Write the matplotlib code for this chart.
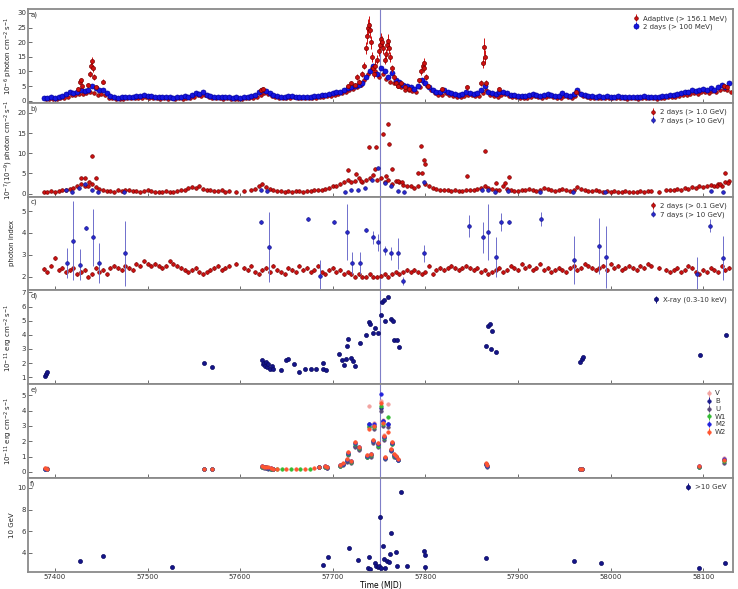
import numpy as np
import matplotlib
matplotlib.use('Agg')
import matplotlib.pyplot as plt

nan = np.nan

# ---- panel a: gamma-ray flux (10^-6 ph cm^-2 s^-1)
blue_a_t = np.arange(57388, 58129, 4)
blue_a = [0.9, 1.0, 1.1, 1.0, 1.3, 1.6, 2.4, 2.9, 2.6, 3.0,
          3.5, 3.2, 3.8, 5.0, 4.2, 3.5, 3.8, 2.5, 1.5, 1.2,
          1.0, 1.1, 1.3, 1.4, 1.2, 1.5, 1.6, 1.8, 1.7, 1.5,
          1.4, 1.2, 1.3, 1.1, 1.2, 1.0, 1.3, 1.2, 1.5, 1.4,
          2.0, 2.6, 2.2, 2.8, 2.0, 1.6, 1.4, 1.2, 1.1, 1.3,
          1.2, 1.0, 1.1, 1.0, 1.2, 1.4, 1.5, 2.0, 2.8, 3.5,
          3.2, 2.5, 2.0, 1.6, 1.4, 1.3, 1.5, 1.6, 1.4, 1.3,
          1.2, 1.3, 1.4, 1.5, 1.6, 1.8, 2.0, 2.2, 2.5, 2.8,
          3.0, 3.5, 4.2, 4.5, 5.0, 5.5, 6.0, 8.0, 10.0, 12.0,
          9.0, 11.0, 10.0, 8.0, 9.5, 7.0, 6.5, 5.5, 5.0, 4.5,
          4.0, 5.0, 7.0, 6.0, 4.5, 3.5, 3.0, 2.8, 3.5, 3.0,
          2.5, 2.2, 2.0, 2.3, 2.8, 2.5, 2.2, 2.6, 3.5, 5.0,
          3.0, 2.5, 2.2, 2.8, 3.0, 2.5, 2.0, 1.8, 1.7, 1.6,
          1.5, 1.8, 2.2, 1.8, 1.6, 1.9, 2.3, 2.0, 1.7, 1.6,
          2.5, 1.8, 1.6, 2.2, 3.5, 2.4, 1.8, 1.6, 1.5, 1.4,
          1.6, 1.4, 1.5, 1.3, 1.4, 1.5, 1.3, 1.2, 1.4, 1.3,
          1.2, 1.3, 1.5, 1.4, 1.3, 1.2, 1.3, 1.5, 1.7, 1.9,
          2.0, 2.3, 2.5, 2.8, 3.0, 3.5, 3.2, 3.8, 4.0, 3.5,
          4.2, 3.8, 4.5, 5.5, 4.8, 6.2]

red_a_t = np.arange(57390, 58131, 4)
red_a = [0.6, 0.7, 0.6, 0.7, 0.8, 1.0, 1.4, 1.8, 2.0, 2.4,
         2.2, 2.6, 3.0, 2.5, 2.0, 2.4, 1.8, 1.0, 0.8, 0.7,
         0.6, 0.7, 0.8, 0.9, 0.8, 0.9, 1.0, 1.1, 1.0, 0.9,
         0.8, 0.7, 0.8, 0.7, 0.8, 0.6, 0.8, 0.7, 0.9, 1.0,
         1.4, 1.8, 1.5, 1.9, 1.3, 1.0, 0.9, 0.8, 0.7, 0.8,
         0.7, 0.6, 0.7, 0.6, 0.8, 0.9, 1.0, 1.4, 2.0, 2.6,
         2.2, 1.6, 1.2, 1.0, 0.9, 0.8, 1.0, 1.1, 0.9, 0.8,
         0.8, 0.9, 1.0, 1.0, 1.1, 1.3, 1.5, 1.6, 1.9, 2.2,
         2.5, 2.8, 3.5, 4.0, 4.5, 5.5, 7.0, 9.0, 11.0, 10.0,
         8.0, 9.0, 7.5, 6.5, 6.0, 5.0, 4.5, 3.8, 3.5, 3.2,
         3.0, 4.5, 6.0, 5.0, 3.5, 2.5, 2.0, 1.8, 2.5, 2.0,
         1.6, 1.4, 1.3, 1.5, 2.0, 1.8, 1.5, 1.6, 2.5, 3.5,
         2.0, 1.6, 1.4, 2.0, 2.2, 1.6, 1.3, 1.1, 1.0, 1.0,
         0.9, 1.1, 1.5, 1.2, 1.0, 1.2, 1.6, 1.3, 1.0, 1.0,
         1.5, 1.1, 1.0, 1.5, 2.5, 1.6, 1.2, 1.0, 0.9, 0.8,
         1.0, 0.8, 0.9, 0.8, 0.8, 0.9, 0.8, 0.7, 0.8, 0.8,
         0.7, 0.8, 0.9, 0.8, 0.8, 0.7, 0.8, 0.9, 1.1, 1.3,
         1.4, 1.6, 1.8, 2.0, 2.2, 2.6, 2.4, 2.8, 3.0, 2.6,
         3.2, 2.8, 3.5, 4.0, 3.6, 3.0]

# adaptive bins are finer during flares
red_pk_t = [57425, 57427, 57428, 57429, 57436, 57438, 57439, 57440, 57441, 57442, 57444, 57452,
            57622, 57625,
            57716, 57720, 57724, 57726, 57728, 57732, 57734, 57736, 57737, 57738, 57739, 57740,
            57741, 57742, 57744, 57745, 57746, 57748, 57750, 57751, 57752, 57753, 57754, 57756,
            57757, 57759, 57760, 57761, 57762, 57764, 57766, 57768, 57771, 57774, 57778, 57782,
            57793, 57795, 57797, 57798, 57799, 57801, 57803,
            57818, 57845, 57860, 57862, 57863, 57864, 57866, 57880, 57963, 58122, 58126]
red_pk = [4.0, 6.5, 7.0, 5.0, 5.5, 9.0, 12.0, 13.5, 11.0, 8.0, 4.5, 6.5,
          3.5, 4.0,
          5.0, 6.0, 5.5, 8.0, 6.5, 9.0, 12.0, 18.0, 22.0, 25.0, 26.0, 24.0,
          20.0, 15.0, 11.0, 9.0, 12.0, 14.0, 17.0, 19.0, 21.0, 20.0, 18.0, 14.0,
          16.0, 19.0, 20.5, 18.0, 15.0, 11.0, 8.0, 6.0, 5.0, 6.0, 4.5, 4.0,
          7.0, 10.0, 12.0, 13.0, 11.0, 8.0, 5.0,
          4.0, 4.5, 6.0, 13.0, 18.5, 15.0, 6.0, 4.0, 3.0, 5.0, 4.5]
red_pk_err = [0.6, 0.8, 0.9, 0.6, 0.7, 1.0, 1.2, 1.4, 1.2, 1.0, 0.6, 0.8,
              0.5, 0.6,
              0.7, 0.8, 0.7, 1.0, 0.8, 1.0, 1.3, 2.0, 2.5, 2.8, 3.0, 2.6,
              2.2, 1.8, 1.3, 1.1, 1.4, 1.6, 1.8, 2.0, 2.2, 2.2, 2.0, 1.6,
              1.7, 2.0, 2.2, 2.0, 1.7, 1.3, 1.0, 0.8, 0.7, 0.8, 0.6, 0.6,
              0.9, 1.2, 1.4, 1.5, 1.3, 1.0, 0.7,
              0.6, 0.7, 1.0, 2.0, 3.0, 2.2, 0.9, 0.6, 0.5, 0.8, 0.7]

# ---- panel b: 2-day >1 GeV (red) and 7-day >10 GeV (blue)
red_b_t = np.arange(57388, 58129, 4)
red_b = [0.5, 0.4, 0.6, 0.5, 0.7, 0.8, 1.0, 1.2, 1.5, 2.0,
         2.4, 1.8, 2.0, 2.5, 1.6, 1.2, 0.9, 0.7, 0.6, 0.5,
         0.8, 0.7, 0.9, 0.8, 0.6, 0.7, 0.5, 0.6, 0.8, 0.7,
         0.5, 0.4, 0.5, 0.6, 0.4, 0.5, 0.6, 0.8, 0.9, 1.3,
         1.6, 1.4, 1.8, 1.2, 0.9, 0.8, 0.7, 0.6, 0.8, 0.5,
         0.6, nan, 0.5, nan, 0.7, nan, 0.8, 1.2, 1.8, 2.4,
         1.6, 1.2, 0.8, 0.6, 0.7, 0.5, 0.6, 0.5, 0.7, 0.6,
         0.5, 0.6, 0.7, 0.8, 0.9, 1.0, 1.2, 1.5, 1.8, 2.0,
         2.5, 3.0, 3.5, 2.8, 3.2, 4.0, 3.0, 3.5, 4.0, 4.5,
         3.5, 4.0, 3.0, 3.5, 2.5, 3.2, 2.8, 2.2, 2.0, 1.8,
         1.5, 2.0, 5.0, 2.5, 1.8, 1.4, 1.2, 1.0, 0.9, 0.8,
         0.7, 0.8, 0.6, 0.7, 0.9, 1.0, 0.8, 1.2, 1.5, 2.0,
         1.5, 1.2, 0.8, 1.0, 1.8, 1.2, 0.8, 0.7, 0.6, 0.8,
         1.0, 1.2, 0.9, 0.7, 0.8, 1.5, 1.2, 0.9, 0.7, 0.8,
         1.2, 0.9, 0.7, 1.0, 1.6, 1.2, 0.8, 0.6, 0.7, 0.8,
         0.6, 0.5, 0.7, 0.5, 0.6, 0.4, 0.5, 0.6, 0.5, 0.4,
         0.5, 0.6, 0.5, 0.7, 0.6, nan, 0.5, nan, 0.8, 1.0,
         0.9, 1.2, 1.0, 1.4, 1.2, 1.6, 1.5, 1.9, 1.6, 2.0,
         2.2, 1.8, 2.5, 2.0, 2.8, 3.2]
red_b_pk_t = [57428, 57433, 57437, 57440, 57444, 57716, 57725, 57730, 57739, 57746, 57747,
              57754, 57757, 57760, 57761, 57764, 57770, 57775, 57792, 57795, 57798, 57800,
              57845, 57864, 57876, 57886, 57890, 58115, 58118, 58124, 58127]
red_b_pk = [4.0, 4.0, 3.0, 9.3, 4.0, 5.9, 4.9, 3.2, 11.6, 6.2, 11.6,
            14.8, 4.4, 17.3, 12.3, 6.2, 3.2, 3.0, 5.2, 11.8, 8.4, 7.4,
            4.4, 10.6, 2.7, 2.7, 4.2, 2.0, 2.5, 5.2, 2.7]

blue_b_t = [57412, 57419, 57426, 57433, 57440, 57447, 57475, 57622, 57629, 57713, 57720,
            57727, 57735, 57742, 57749, 57756, 57763, 57770, 57777, 57798, 57861, 57868,
            57875, 57889, 57924, 57959, 57994, 58108, 58121]
blue_b = [0.8, 0.3, 1.5, 2.5, 1.0, 0.5, 0.4, 0.8, 0.6, 0.5, 0.8,
          1.0, 1.5, 3.5, 6.4, 2.7, 1.8, 0.6, 0.3, 3.0, 1.0, 0.8,
          0.5, 0.6, 0.4, 0.5, 0.4, 0.6, 0.3]

# ---- panel c: photon index
red_c = [2.35, 2.2, 2.5, 2.85, 2.3, 2.4, 2.2, 2.3, 2.4, 2.1,
         2.2, 2.3, 2.0, 2.1, 2.4, 2.2, 2.3, 2.1, 2.4, 2.5,
         2.4, 2.3, 2.5, 2.4, 2.3, 2.6, 2.5, 2.7, 2.6, 2.5,
         2.6, 2.5, 2.4, 2.5, 2.7, 2.6, 2.5, 2.4, 2.3, 2.2,
         2.3, 2.4, 2.2, 2.1, 2.2, 2.3, 2.4, 2.5, 2.3, 2.4,
         2.5, nan, 2.6, nan, 2.4, 2.3, 2.5, 2.2, 2.1, 2.3,
         2.4, 2.2, 2.5, 2.3, 2.2, 2.1, 2.4, 2.3, 2.2, 2.5,
         2.3, 2.4, 2.2, 2.3, 2.5, 2.2, 2.1, 2.3, 2.4, 2.2,
         2.3, 2.1, 2.2, 2.1, 2.0, 2.1, 2.0, 2.0, 2.1, 2.0,
         2.0, 2.05, 2.1, 2.0, 2.1, 2.2, 2.1, 2.2, 2.3, 2.2,
         2.3, 2.2, 2.1, 2.2, 2.5, 2.1, 2.3, 2.4, 2.3, 2.4,
         2.5, 2.4, 2.3, 2.4, 2.5, 2.4, 2.3, 2.4, 2.2, 2.3,
         2.1, 2.2, 2.3, 2.4, 2.2, 2.3, 2.5, 2.4, 2.3, 2.6,
         2.4, 2.5, 2.3, 2.4, 2.6, 2.3, 2.4, 2.2, 2.3, 2.4,
         2.3, 2.2, 2.4, 2.5, 2.3, 2.4, 2.6, 2.5, 2.4, 2.3,
         2.4, 2.5, 2.3, 2.6, 2.4, 2.5, 2.3, 2.4, 2.5, 2.4,
         2.3, 2.5, 2.4, 2.6, 2.5, nan, 2.4, nan, 2.3, 2.2,
         2.3, 2.4, 2.2, 2.3, 2.5, 2.4, 2.2, 2.1, 2.3, 2.2,
         2.4, 2.3, 2.2, 2.5, 2.3, 2.4]

blue_c_t = [57413, 57420, 57427, 57434, 57441, 57448, 57476, 57623, 57631, 57673, 57686,
            57701, 57715, 57721, 57729, 57736, 57743, 57749, 57756, 57763, 57770, 57776,
            57798, 57847, 57862, 57868, 57876, 57882, 57890, 57925, 57960, 57987, 57995,
            58093, 58107, 58121]
blue_c = [2.62, 3.65, 2.55, 4.24, 3.8, 2.62, 3.07, 4.5, 3.35, 4.64, 2.05,
          4.5, 4.05, 2.62, 2.62, 4.15, 3.8, 3.57, 3.2, 3.07, 3.07, 1.8,
          3.07, 4.33, 3.8, 4.05, 2.9, 4.5, 4.5, 4.64, 2.75, 3.4, 2.9,
          2.1, 4.33, 2.85]
blue_c_err = [0.7, 1.8, 0.7, 0.1, 1.3, 0.9, 1.5, 0.1, 1.6, 0.1, 0.7,
              0.1, 1.3, 0.5, 0.5, 0.1, 0.3, 0.4, 0.2, 0.3, 0.7, 0.2,
              0.4, 0.5, 0.7, 1.3, 0.9, 0.4, 0.1, 0.3, 1.1, 1.3, 1.4,
              0.8, 0.3, 1.0]

# ---- panel d: X-ray 0.3-10 keV
xray_t = [57389, 57390, 57391, 57561, 57570,
          57624, 57625, 57626, 57627, 57628, 57629, 57630, 57632, 57634, 57636,
          57644, 57649, 57652, 57658, 57664, 57670, 57676, 57682, 57689, 57690, 57693,
          57707, 57710, 57712, 57714, 57715, 57717, 57720, 57722, 57724, 57729,
          57736, 57739, 57740, 57743, 57746, 57749, 57752, 57753, 57755, 57756,
          57760, 57763, 57765, 57766, 57769, 57772,
          57866, 57868, 57870, 57871, 57872, 57876,
          57967, 57969, 57970, 58097, 58125]
xray = [1.1, 1.25, 1.35, 2.0, 1.7,
        2.2, 1.9, 2.0, 1.8, 2.1, 1.7, 1.9, 1.6, 1.8, 1.6,
        1.5, 2.2, 2.3, 1.9, 1.4, 1.6, 1.6, 1.6, 2.0, 1.55, 1.5,
        2.65, 2.2, 1.85, 2.3, 3.2, 3.7, 2.35, 2.15, 1.8, 3.4,
        4.0, 4.9, 4.8, 4.1, 4.5, 4.1, 5.4, 6.35, 6.5, 5.0,
        6.7, 5.1, 5.0, 3.65, 3.6, 3.15,
        3.2, 4.6, 4.8, 3.0, 4.3, 2.8,
        2.1, 2.3, 2.4, 2.55, 4.0]

# ---- panel e: Swift/UVOT
uvot_t = [57389, 57391, 57561, 57570, 57624, 57626, 57628, 57630, 57633, 57636,
          57640, 57645, 57650, 57655, 57660, 57665, 57670, 57675, 57680, 57685,
          57692, 57694, 57708, 57711, 57715, 57716, 57720, 57724, 57728, 57737,
          57739, 57741, 57744, 57745, 57749, 57752, 57754, 57755, 57756, 57760,
          57763, 57764, 57766, 57768, 57770, 57865, 57867, 57967, 57969, 58095,
          58123]
uv_V = [0.25, 0.24, 0.2, 0.22, 0.4, 0.35, 0.3, 0.28, 0.25, 0.22,
        nan, nan, nan, nan, nan, nan, nan, nan, nan, 0.35,
        0.4, 0.32, 0.45, 0.55, 0.85, 1.3, 0.7, 1.95, 1.65, 1.1,
        4.3, 1.2, 2.1, 3.2, 1.9, 4.6, 3.4, 2.4, 0.95, 4.4,
        1.5, 1.95, 1.15, 1.05, 0.85, 0.55, 0.4, 0.2, 0.22, 0.38,
        0.9]
uv_B = [0.22, 0.2, 0.18, 0.2, 0.35, 0.3, 0.28, 0.25, 0.22, 0.2,
        nan, nan, nan, nan, nan, nan, nan, nan, nan, 0.3,
        0.35, 0.28, 0.4, 0.5, 0.7, 1.2, 0.62, 1.7, 1.5, 1.0,
        3.1, 1.1, 2.0, 3.0, 1.8, 4.2, 3.3, 2.3, 0.9, 3.1,
        1.45, 1.9, 1.1, 1.0, 0.8, 0.5, 0.38, 0.18, 0.2, 0.35,
        0.8]
uv_U = [0.2, 0.2, 0.17, 0.19, 0.32, 0.28, 0.26, 0.22, 0.2, 0.18,
        nan, nan, nan, nan, nan, nan, nan, nan, nan, 0.3,
        0.33, 0.26, 0.38, 0.45, 0.65, 1.1, 0.6, 1.6, 1.45, 0.95,
        2.9, 1.0, 1.9, 2.8, 1.6, 4.0, 3.0, 2.1, 0.85, 2.9,
        1.35, 1.8, 1.0, 0.95, 0.75, 0.45, 0.35, 0.16, 0.18, 0.32,
        0.6]
uv_W1 = [0.22, 0.21, 0.2, 0.21, 0.35, 0.3, 0.3, 0.25, 0.22, 0.2,
         0.18, 0.17, nan, 0.18, nan, 0.2, nan, 0.22, nan, 0.32,
         0.35, 0.3, 0.4, 0.5, 0.75, 1.15, 0.65, 1.8, 1.55, 1.0,
         3.0, 1.1, 2.0, 2.9, 1.7, 4.3, 3.1, 2.2, 0.9, 3.6,
         1.4, 1.85, 1.05, 1.0, 0.8, 0.5, 0.38, 0.18, 0.2, 0.35,
         0.7]
uv_M2 = [0.2, 0.22, 0.19, 0.2, 0.38, 0.33, 0.3, 0.27, 0.24, 0.2,
         nan, nan, nan, nan, nan, nan, nan, nan, nan, 0.33,
         0.38, 0.3, 0.42, 0.55, 0.8, 1.25, 0.7, 1.9, 1.6, 1.05,
         3.1, 1.15, 2.05, 3.1, 1.8, 5.06, 3.3, 2.3, 0.9, 3.1,
         1.45, 1.9, 1.1, 1.0, 0.8, 0.55, 0.4, 0.19, 0.2, 0.38,
         0.85]
uv_W2 = [0.23, 0.2, 0.2, 0.2, 0.4, 0.35, 0.32, 0.3, 0.26, 0.22,
         0.2, nan, 0.18, nan, 0.2, nan, 0.2, nan, 0.25, 0.35,
         0.4, 0.33, 0.45, 0.6, 0.85, 1.3, 0.72, 1.95, 1.6, 1.1,
         2.8, 1.2, 2.1, 3.0, 1.9, 4.5, 3.2, 2.35, 0.95, 2.6,
         1.5, 1.95, 1.15, 1.05, 0.85, 0.6, 0.42, 0.2, 0.22, 0.4,
         0.75]
uv_bands = ['V', 'B', 'U', 'W1', 'M2', 'W2']
uv_colors = ['#f2a3a0', '#1a1a8c', '#5a4a78', '#33bb33', '#2222dd', '#ff5530']

# ---- panel f: >10 GeV photons
hep_t = [57427, 57452, 57526, 57689, 57695, 57718, 57727, 57738, 57739, 57740,
         57746, 57747, 57749, 57751, 57750, 57752, 57754, 57755, 57756, 57759,
         57761, 57762, 57763, 57768, 57769, 57774, 57780, 57799, 57799.5, 57800,
         57865, 57961, 57990, 58095, 58124]
hep = [3.26, 3.7, 2.7, 2.9, 3.6, 4.45, 3.35, 2.6, 3.6, 2.5,
       3.1, 2.8, 2.7, 7.35, 2.8, 2.6, 4.6, 3.45, 2.65, 3.26,
       3.2, 3.9, 5.85, 4.1, 2.8, 9.65, 2.8, 4.2, 3.8, 2.7,
       3.5, 3.26, 3.05, 2.6, 3.1]

flare_mjd = 57751

# ---------------------------------------------------------------
plt.rcParams['font.family'] = 'DejaVu Sans'
fig, axes = plt.subplots(6, 1, figsize=(7.38, 5.89), dpi=100, sharex=True)
fig.subplots_adjust(left=0.038, right=0.993, top=0.985, bottom=0.029, hspace=0)

RED = '#d01010'
RED_E = '#7a0000'
BLUE = '#1515e0'
NAVY = '#14148a'
ms = 2.6


def pts(ax, t, y, color, edge, yerr=None, ecolor=None, label=None, size=ms, z=2):
    return ax.errorbar(t, y, yerr=yerr, fmt='o', color=color, mec=edge, mew=0.5,
                       ms=size, ecolor=ecolor or color, elinewidth=0.7, capsize=0,
                       label=label, zorder=z)


legend_items = []

ax = axes[0]
h_red = pts(ax, red_a_t, red_a, RED, RED_E, yerr=0.3, z=2)
h_blue = pts(ax, blue_a_t, blue_a, BLUE, '#0000a0', yerr=0.25, size=3.6, z=3)
pts(ax, red_pk_t, red_pk, RED, RED_E, yerr=red_pk_err, size=2.9, z=4)
ax.set_ylim(-0.7, 31.4)
ax.set_yticks([0, 5, 10, 15, 20, 25, 30])
ax.set_ylabel('10$^{-6}$ photon cm$^{-2}$ s$^{-1}$')
legend_items.append(([h_red, h_blue], ['Adaptive (> 156.1 MeV)', '2 days (> 100 MeV)']))

ax = axes[1]
h_r = pts(ax, red_b_t, red_b, RED, RED_E, yerr=0.15)
pts(ax, red_b_pk_t, red_b_pk, RED, RED_E)
h_b = pts(ax, blue_b_t, blue_b, '#2a2ad0', NAVY, yerr=0.15, z=3)
ax.set_ylim(-0.7, 22.5)
ax.set_yticks([0, 5, 10, 15, 20])
ax.set_ylabel('10$^{-7}$(10$^{-9}$) photon cm$^{-2}$ s$^{-1}$')
legend_items.append(([h_r, h_b], ['2 days (> 1.0 GeV)', '7 days (> 10 GeV)']))

ax = axes[2]
h_r = pts(ax, red_b_t, red_c, RED, RED_E, yerr=0.08)
h_b = pts(ax, blue_c_t, blue_c, '#2a2ad0', NAVY, yerr=blue_c_err, ecolor='#6f6fcc', z=3)
ax.set_ylim(1.37, 5.67)
ax.set_yticks([2, 3, 4, 5])
ax.set_ylabel('photon index')
legend_items.append(([h_r, h_b], ['2 days (> 0.1 GeV)', '7 days (> 10 GeV)']))

ax = axes[3]
h_x = pts(ax, xray_t, xray, NAVY, '#0a0a60', yerr=0.05, size=2.9)
ax.set_ylim(0.5, 7.15)
ax.set_yticks([1, 2, 3, 4, 5, 6, 7])
ax.set_ylabel('10$^{-11}$ erg cm$^{-2}$ s$^{-1}$')
legend_items.append(([h_x], ['X-ray (0.3-10 keV)']))

ax = axes[4]
uv_handles = []
for band, vals, c in zip(uv_bands, [uv_V, uv_B, uv_U, uv_W1, uv_M2, uv_W2], uv_colors):
    uv_handles.append(pts(ax, uvot_t, vals, c, c, yerr=0.03, size=2.5))
ax.set_ylim(-0.4, 5.72)
ax.set_yticks([0, 1, 2, 3, 4, 5])
ax.set_ylabel('10$^{-11}$ erg cm$^{-2}$ s$^{-1}$')
legend_items.append((uv_handles, uv_bands))

ax = axes[5]
h_f = pts(ax, hep_t, hep, NAVY, '#0a0a60', yerr=0.05, size=2.9)
ax.set_ylim(2.25, 10.9)
ax.set_yticks([4, 6, 8, 10])
ax.set_ylabel('10 GeV')
legend_items.append(([h_f], ['>10 GeV']))
ax.set_xlabel('Time (MJD)', fontsize=5.5, labelpad=1)

ax.set_xlim(57371, 58132)
ax.set_xticks([57400, 57500, 57600, 57700, 57800, 57900, 58000, 58100])
ax.set_xticklabels([str(v) for v in range(57400, 58101, 100)])

for i, ax in enumerate(axes):
    ax.axvline(flare_mjd, color='#7f7fc8', lw=0.8, zorder=1)
    for sp in ax.spines.values():
        sp.set_color('#8a8a8a')
        sp.set_linewidth(1.3)
    ax.tick_params(direction='in', length=3, width=0.6, color='#555555',
                   labelsize=5, pad=1.5, labelcolor='#333333')
    ax.yaxis.label.set_size(5)
    ax.yaxis.label.set_color('#222222')
    ax.yaxis.set_label_coords(-0.018, 0.5)
    ax.text(0.003, 0.975, 'abcdef'[i] + ')', transform=ax.transAxes,
            fontsize=5, va='top', ha='left', color='#333333')
    handles, labels = legend_items[i]
    leg = ax.legend(handles, labels, loc='upper right', frameon=False, fontsize=5,
                    handlelength=0.9, handletextpad=0.5, labelspacing=0.25,
                    borderaxespad=0.5)
    for txt in leg.get_texts():
        txt.set_color('#333333')

fig.savefig('out.png', dpi=100)
